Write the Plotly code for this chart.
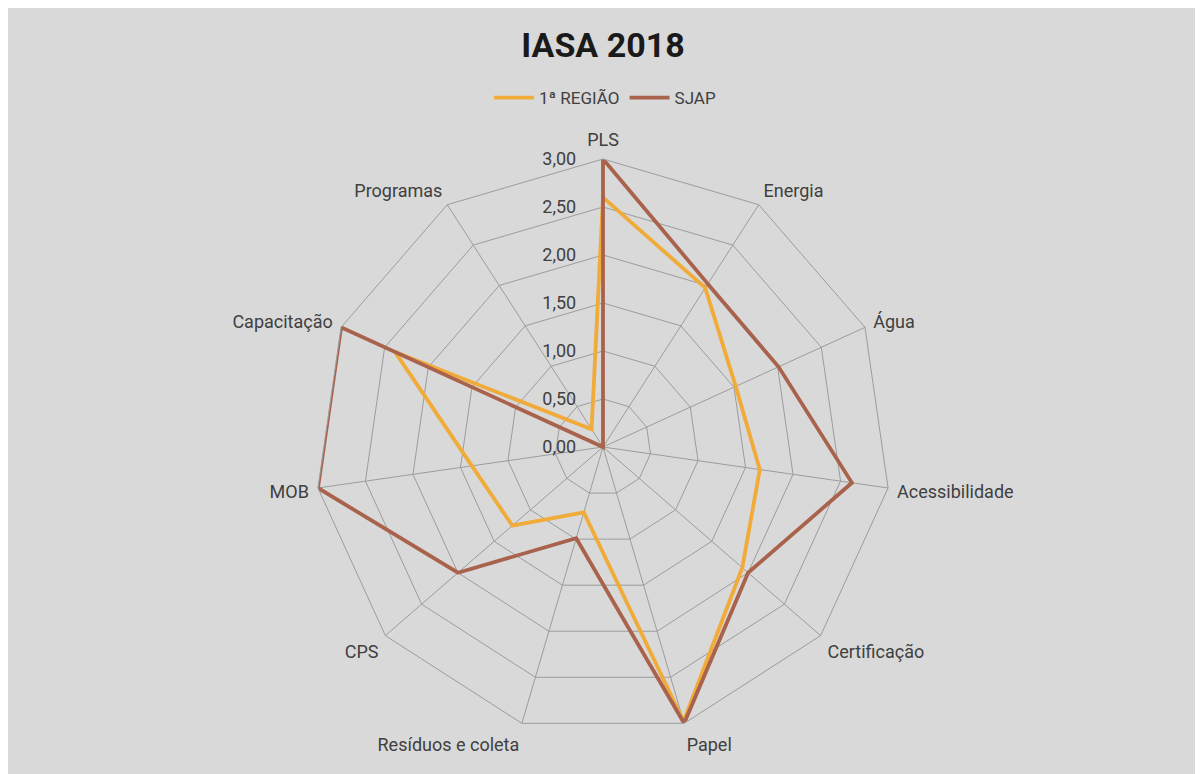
import plotly.graph_objects as go

categories = ["PLS", "Energia", "Água", "Acessibilidade", "Certificação", "Papel",
              "Resíduos e coleta", "CPS", "MOB", "Capacitação", "Programas"]
regiao = [2.60, 1.97, 1.52, 1.65, 1.92, 2.98, 0.71, 1.25, 1.38, 2.38, 0.22]
sjap = [3.00, 2.02, 2.01, 2.62, 2.00, 3.00, 0.99, 2.00, 3.00, 3.00, 0.00]
radial_ticks = [0, 0.5, 1.0, 1.5, 2.0, 2.5, 3.0]

# page has an 8px body margin; size the figure to fill the rest of the window
OX, OY = 8, 8
W, H = 1203 - OX, 774 - OY
BG = "#D9D9D9"
TXT = "#404040"
GRID = "#9C9C9C"
FONT = "Roboto, Liberation Sans, sans-serif"

fig = go.Figure()
fig.add_trace(go.Scatterpolar(
    r=regiao + regiao[:1], theta=categories + categories[:1],
    mode="lines", name="1ª REGIÃO",
    line=dict(color="#F0AB38", width=3.8)))
fig.add_trace(go.Scatterpolar(
    r=sjap + sjap[:1], theta=categories + categories[:1],
    mode="lines", name="SJAP",
    line=dict(color="#A9634C", width=3.8)))

cx, cy, R = 603 - OX, 447 - OY, 288
fig.update_layout(
    width=W, height=H,
    margin=dict(l=0, r=0, t=0, b=0),
    paper_bgcolor=BG,
    separators=",.",
    font=dict(family=FONT, size=18, color=TXT),
    title=dict(text="<b>IASA 2018</b>", x=(603 - OX) / W, xanchor="center",
               y=1 - (45 - OY) / H, yanchor="middle",
               font=dict(family=FONT, size=34, color="#1a1a1a")),
    legend=dict(orientation="h", x=(605 - OX) / W, xanchor="center",
                y=1 - (98 - OY) / H, yanchor="middle",
                bgcolor="rgba(0,0,0,0)", font=dict(size=17, color=TXT),
                itemwidth=40),
    polar=dict(
        domain=dict(x=[(cx - R) / W, (cx + R) / W],
                    y=[1 - (cy + R) / H, 1 - (cy - R) / H]),
        bgcolor="rgba(0,0,0,0)",
        gridshape="linear",
        angularaxis=dict(direction="clockwise", rotation=90,
                         showline=True, linecolor=GRID, linewidth=1,
                         gridcolor=GRID, gridwidth=1,
                         ticks="outside", ticklen=5, tickcolor="rgba(0,0,0,0)",
                         tickfont=dict(size=18, color=TXT)),
        radialaxis=dict(range=[0, 3], tickvals=radial_ticks, tickformat=".2f",
                        angle=90, tickangle=90, side="counterclockwise",
                        showline=False, gridcolor=GRID, gridwidth=1,
                        ticks="outside", ticklen=20, tickcolor="rgba(0,0,0,0)",
                        tickfont=dict(size=18, color=TXT)),
    ),
)

fig.write_html("out.html")
